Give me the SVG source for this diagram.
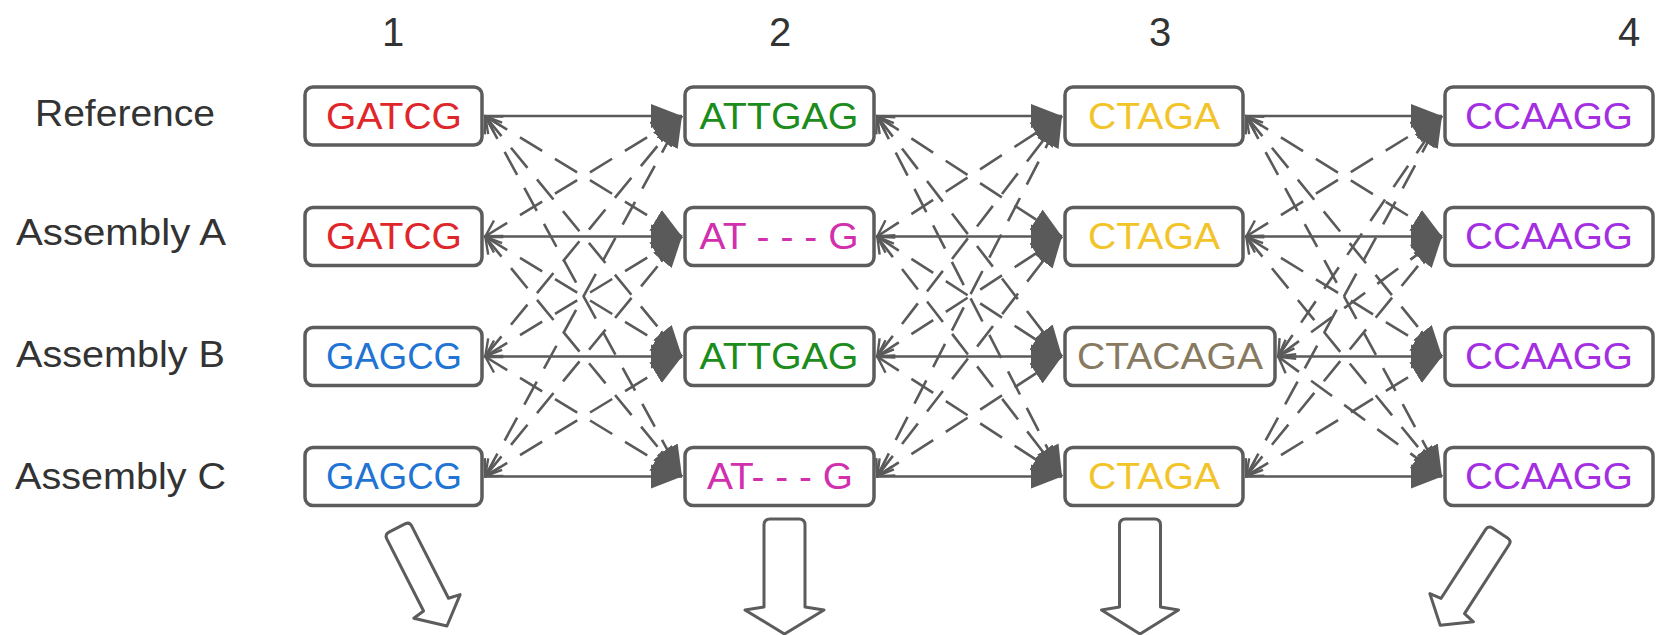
<svg xmlns="http://www.w3.org/2000/svg" width="1659" height="635" viewBox="0 0 1659 635">
  <style>
    .lbl { font-family: "Liberation Sans", Arial, sans-serif; font-size: 36px; fill: #333333; }
    .num { font-family: "Liberation Sans", Arial, sans-serif; font-size: 40px; fill: #333333; text-anchor: middle; }
    .box { fill: #ffffff; stroke: #5c5c5c; stroke-width: 3.5; }
    .seq { font-family: "Liberation Sans", Arial, sans-serif; font-size: 36px; text-anchor: middle; }
    .solid { stroke: #5a5a5a; stroke-width: 2.6; fill: none; marker-end: url(#head); }
    .dash { stroke: #5a5a5a; stroke-width: 2.6; fill: none; stroke-dasharray: 26 15; marker-start: url(#tail); marker-end: url(#head); }
    .block { fill: #ffffff; stroke: #5c5c5c; stroke-width: 3; stroke-linejoin: round; }
    .red { fill: #e0262a; } .green { fill: #1c8c1c; } .mag { fill: #d12fae; } .blue { fill: #1f74d4; }
    .yel { fill: #f3c42a; } .taupe { fill: #877a60; } .purp { fill: #a42fe2; }
  </style>
  <defs>
    <marker id="head" markerUnits="userSpaceOnUse" markerWidth="34" markerHeight="28" viewBox="0 0 34 28" refX="31" refY="14" orient="auto">
      <path d="M0,2 L31,14 L0,26 Z" fill="#5a5a5a"/>
    </marker>
    <marker id="tail" markerUnits="userSpaceOnUse" markerWidth="22" markerHeight="22" viewBox="-2 -11 22 22" refX="0" refY="0" orient="auto">
      <path d="M16,-9 L0.5,0 L16,9" fill="none" stroke="#5a5a5a" stroke-width="2.4"/>
    </marker>
  </defs>

  <rect width="1659" height="635" fill="#ffffff"/>

  <!-- column numbers -->
  <g id="col-numbers">
    <text class="num" x="393" y="46">1</text>
    <text class="num" x="780" y="46">2</text>
    <text class="num" x="1160" y="46">3</text>
    <text class="num" x="1629" y="46">4</text>
  </g>

  <!-- row labels -->
  <g id="row-labels">
    <text class="lbl" x="35" y="126" textLength="180" lengthAdjust="spacingAndGlyphs">Reference</text>
    <text class="lbl" x="16" y="245" textLength="210" lengthAdjust="spacingAndGlyphs">Assembly A</text>
    <text class="lbl" x="16" y="367" textLength="209" lengthAdjust="spacingAndGlyphs">Assembly B</text>
    <text class="lbl" x="15" y="489" textLength="211" lengthAdjust="spacingAndGlyphs">Assembly C</text>
  </g>

  <!-- connectors between neighbouring columns -->
  <g id="connectors">
    <!-- columns 1 to 2 -->
    <line class="solid" x1="485" y1="116" x2="682" y2="116"/>
    <line class="solid" x1="485" y1="236.5" x2="682" y2="236.5"/>
    <line class="solid" x1="485" y1="356.5" x2="682" y2="356.5"/>
    <line class="solid" x1="485" y1="476.5" x2="682" y2="476.5"/>
    <line class="dash" x1="485" y1="116" x2="682" y2="236.5"/>
    <line class="dash" x1="485" y1="116" x2="682" y2="356.5"/>
    <line class="dash" x1="485" y1="116" x2="682" y2="476.5"/>
    <line class="dash" x1="485" y1="236.5" x2="682" y2="116"/>
    <line class="dash" x1="485" y1="236.5" x2="682" y2="356.5"/>
    <line class="dash" x1="485" y1="236.5" x2="682" y2="476.5"/>
    <line class="dash" x1="485" y1="356.5" x2="682" y2="116"/>
    <line class="dash" x1="485" y1="356.5" x2="682" y2="236.5"/>
    <line class="dash" x1="485" y1="356.5" x2="682" y2="476.5"/>
    <line class="dash" x1="485" y1="476.5" x2="682" y2="116"/>
    <line class="dash" x1="485" y1="476.5" x2="682" y2="236.5"/>
    <line class="dash" x1="485" y1="476.5" x2="682" y2="356.5"/>
    <!-- columns 2 to 3 -->
    <line class="solid" x1="877" y1="116" x2="1062" y2="116"/>
    <line class="solid" x1="877" y1="236.5" x2="1062" y2="236.5"/>
    <line class="solid" x1="877" y1="356.5" x2="1062" y2="356.5"/>
    <line class="solid" x1="877" y1="476.5" x2="1062" y2="476.5"/>
    <line class="dash" x1="877" y1="116" x2="1062" y2="236.5"/>
    <line class="dash" x1="877" y1="116" x2="1062" y2="356.5"/>
    <line class="dash" x1="877" y1="116" x2="1062" y2="476.5"/>
    <line class="dash" x1="877" y1="236.5" x2="1062" y2="116"/>
    <line class="dash" x1="877" y1="236.5" x2="1062" y2="356.5"/>
    <line class="dash" x1="877" y1="236.5" x2="1062" y2="476.5"/>
    <line class="dash" x1="877" y1="356.5" x2="1062" y2="116"/>
    <line class="dash" x1="877" y1="356.5" x2="1062" y2="236.5"/>
    <line class="dash" x1="877" y1="356.5" x2="1062" y2="476.5"/>
    <line class="dash" x1="877" y1="476.5" x2="1062" y2="116"/>
    <line class="dash" x1="877" y1="476.5" x2="1062" y2="236.5"/>
    <line class="dash" x1="877" y1="476.5" x2="1062" y2="356.5"/>
    <!-- columns 3 to 4 -->
    <line class="solid" x1="1246" y1="116" x2="1442" y2="116"/>
    <line class="solid" x1="1246" y1="236.5" x2="1442" y2="236.5"/>
    <line class="solid" x1="1278" y1="356.5" x2="1442" y2="356.5"/>
    <line class="solid" x1="1246" y1="476.5" x2="1442" y2="476.5"/>
    <line class="dash" x1="1246" y1="116" x2="1442" y2="236.5"/>
    <line class="dash" x1="1246" y1="116" x2="1442" y2="356.5"/>
    <line class="dash" x1="1246" y1="116" x2="1442" y2="476.5"/>
    <line class="dash" x1="1246" y1="236.5" x2="1442" y2="116"/>
    <line class="dash" x1="1246" y1="236.5" x2="1442" y2="356.5"/>
    <line class="dash" x1="1246" y1="236.5" x2="1442" y2="476.5"/>
    <line class="dash" x1="1278" y1="356.5" x2="1442" y2="116"/>
    <line class="dash" x1="1278" y1="356.5" x2="1442" y2="236.5"/>
    <line class="dash" x1="1278" y1="356.5" x2="1442" y2="476.5"/>
    <line class="dash" x1="1246" y1="476.5" x2="1442" y2="116"/>
    <line class="dash" x1="1246" y1="476.5" x2="1442" y2="236.5"/>
    <line class="dash" x1="1246" y1="476.5" x2="1442" y2="356.5"/>
  </g>

  <!-- column 1 -->
  <g id="c1-ref"><rect class="box" x="305" y="87" width="177" height="58" rx="8"/><text class="seq red" x="394" y="128.5" textLength="136" lengthAdjust="spacingAndGlyphs">GATCG</text></g>
  <g id="c1-a"><rect class="box" x="305" y="207.5" width="177" height="58" rx="8"/><text class="seq red" x="394" y="249" textLength="136" lengthAdjust="spacingAndGlyphs">GATCG</text></g>
  <g id="c1-b"><rect class="box" x="305" y="327.5" width="177" height="58" rx="8"/><text class="seq blue" x="394" y="369" textLength="136" lengthAdjust="spacingAndGlyphs">GAGCG</text></g>
  <g id="c1-c"><rect class="box" x="305" y="447.5" width="177" height="58" rx="8"/><text class="seq blue" x="394" y="489" textLength="136" lengthAdjust="spacingAndGlyphs">GAGCG</text></g>

  <!-- column 2 -->
  <g id="c2-ref"><rect class="box" x="685" y="87" width="189" height="58" rx="8"/><text class="seq green" x="779" y="128.5" textLength="159" lengthAdjust="spacingAndGlyphs">ATTGAG</text></g>
  <g id="c2-a"><rect class="box" x="685" y="207.5" width="189" height="58" rx="8"/><text class="seq mag" x="779" y="249" textLength="159" lengthAdjust="spacingAndGlyphs">AT - - - G</text></g>
  <g id="c2-b"><rect class="box" x="685" y="327.5" width="189" height="58" rx="8"/><text class="seq green" x="779" y="369" textLength="159" lengthAdjust="spacingAndGlyphs">ATTGAG</text></g>
  <g id="c2-c"><rect class="box" x="685" y="447.5" width="189" height="58" rx="8"/><text class="seq mag" x="780" y="489" textLength="146" lengthAdjust="spacingAndGlyphs">AT- - - G</text></g>

  <!-- column 3 -->
  <g id="c3-ref"><rect class="box" x="1065" y="87" width="178" height="58" rx="8"/><text class="seq yel" x="1154" y="128.5" textLength="132" lengthAdjust="spacingAndGlyphs">CTAGA</text></g>
  <g id="c3-a"><rect class="box" x="1065" y="207.5" width="178" height="58" rx="8"/><text class="seq yel" x="1154" y="249" textLength="132" lengthAdjust="spacingAndGlyphs">CTAGA</text></g>
  <g id="c3-b"><rect class="box" x="1065" y="327.5" width="210" height="58" rx="8"/><text class="seq taupe" x="1170" y="369" textLength="186" lengthAdjust="spacingAndGlyphs">CTACAGA</text></g>
  <g id="c3-c"><rect class="box" x="1065" y="447.5" width="178" height="58" rx="8"/><text class="seq yel" x="1154" y="489" textLength="132" lengthAdjust="spacingAndGlyphs">CTAGA</text></g>

  <!-- column 4 -->
  <g id="c4-ref"><rect class="box" x="1445" y="87" width="208" height="58" rx="8"/><text class="seq purp" x="1549" y="128.5" textLength="168" lengthAdjust="spacingAndGlyphs">CCAAGG</text></g>
  <g id="c4-a"><rect class="box" x="1445" y="207.5" width="208" height="58" rx="8"/><text class="seq purp" x="1549" y="249" textLength="168" lengthAdjust="spacingAndGlyphs">CCAAGG</text></g>
  <g id="c4-b"><rect class="box" x="1445" y="327.5" width="208" height="58" rx="8"/><text class="seq purp" x="1549" y="369" textLength="168" lengthAdjust="spacingAndGlyphs">CCAAGG</text></g>
  <g id="c4-c"><rect class="box" x="1445" y="447.5" width="208" height="58" rx="8"/><text class="seq purp" x="1549" y="489" textLength="168" lengthAdjust="spacingAndGlyphs">CCAAGG</text></g>

  <!-- outlined block arrows under the columns -->
  <g id="out-1"><path class="block" transform="translate(397,528) rotate(-27)" d="M-14,5 Q-14,0 -9,0 L9,0 Q14,0 14,5 L14,86 L26,88 L0,110 L-26,88 L-14,86 Z"/></g>
  <g id="out-2"><path class="block" transform="translate(784.5,519)" d="M-20.5,6 Q-20.5,0 -14.5,0 L14.5,0 Q20.5,0 20.5,6 L20.5,88 L39.5,91 L0,115 L-39.5,91 L-20.5,88 Z"/></g>
  <g id="out-3"><path class="block" transform="translate(1140,519)" d="M-20.5,6 Q-20.5,0 -14.5,0 L14.5,0 Q20.5,0 20.5,6 L20.5,88 L38.5,91 L0,115 L-38.5,91 L-20.5,88 Z"/></g>
  <g id="out-4"><path class="block" transform="translate(1500,533) rotate(32.9)" d="M-14,5 Q-14,0 -9,0 L9,0 Q14,0 14,5 L14,87 L26,89 L0,110 L-26,89 L-14,87 Z"/></g>
</svg>
